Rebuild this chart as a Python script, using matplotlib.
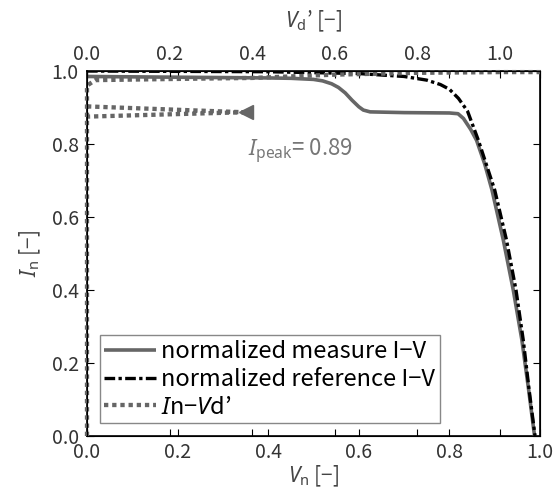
import matplotlib
matplotlib.use("Agg")
import matplotlib.pyplot as plt

plt.rcParams['font.family'] = ['Noto Sans CJK JP', 'DejaVu Sans']
plt.rcParams['mathtext.fontset'] = 'custom'
plt.rcParams['mathtext.it'] = 'Noto Sans:italic'
plt.rcParams['mathtext.rm'] = 'Noto Sans'

# measured I-V (normalized)
meas_v = [0.0, 0.1, 0.2, 0.3, 0.4, 0.45, 0.5, 0.52, 0.54, 0.555, 0.57, 0.585, 0.6, 0.61, 0.625,
          0.7, 0.8, 0.819, 0.831, 0.847, 0.86, 0.878, 0.894, 0.919, 0.941, 0.96, 0.975, 0.988]
meas_i = [0.985, 0.984, 0.983, 0.982, 0.981, 0.980, 0.977, 0.973, 0.965, 0.955, 0.940, 0.920,
          0.902, 0.893, 0.888, 0.886, 0.885, 0.883, 0.870, 0.840, 0.810, 0.745, 0.674, 0.537,
          0.400, 0.263, 0.126, 0.0]

# reference I-V (normalized)
ref_v = [0.0, 0.2, 0.4, 0.6, 0.7, 0.75, 0.78, 0.8, 0.82, 0.84, 0.864, 0.90, 0.926, 0.947,
         0.963, 0.976, 0.989]
ref_i = [1.0, 0.999, 0.998, 0.993, 0.985, 0.975, 0.963, 0.950, 0.925, 0.890, 0.810, 0.674,
         0.537, 0.400, 0.263, 0.126, 0.0]

# In - Vd' trace
ivd_v = [0.0, 0.0, 0.02, 0.2, 0.4, 0.6, 0.8, 1.0, 1.1]
ivd_i = [0.0, 0.96, 0.975, 0.978, 0.981, 0.99, 0.995, 0.997, 0.997]
loop_v = [0.0, 0.38, 0.0]
loop_i = [0.903, 0.887, 0.875]
arrow_v = [0.385]
arrow_i = [0.887]

i_peak = 0.89

fig = plt.figure(figsize=(5.53, 4.97), dpi=100)
ax = fig.add_axes([87/553, 1-436/497, 453/553, 365/497])
ax2 = ax.twiny()

gray = '#666666'
tc = '#333333'
lc = '#444444'

l1, = ax.plot(meas_v, meas_i, color=gray, lw=2.6, solid_capstyle='butt', solid_joinstyle='round',
              label='normalized measure I−V', zorder=3)
l2, = ax.plot(ref_v, ref_i, color='black', lw=2.4, linestyle=(0, (3.2, 1.0, 1.0, 1.0)),
              label='normalized reference I−V', zorder=4)
dots = (0, (1.0, 0.9))
l3, = ax2.plot(ivd_v, ivd_i, color=gray, lw=3.1, linestyle=dots, clip_on=False,
               label=r"$\mathit{I}$n−$\mathit{V}$d’", zorder=2)
ax2.plot(loop_v, loop_i, color=gray, lw=3.1, linestyle=dots, clip_on=False, zorder=2)
ax2.plot(arrow_v, arrow_i, marker='<', color=gray, markersize=10, linestyle='none', zorder=2)

ax.set_xlim(0, 1.0)
ax.set_ylim(0, 1.0)
ax2.set_xlim(0, 1.097)

ticks = [0.0, 0.2, 0.4, 0.6, 0.8, 1.0]
ax.set_xticks(ticks)
ax.set_yticks(ticks)
ax.set_xticklabels([f'{t:.1f}' for t in ticks])
ax.set_yticklabels([f'{t:.1f}' for t in ticks])
ax2.set_xticks(ticks)
ax2.set_xticklabels([f'{t:.1f}' for t in ticks])

ax.tick_params(direction='in', top=True, right=True, labelsize=14, labelcolor=tc, length=5, width=0.8)
ax.tick_params(axis='y', pad=6)
ax.tick_params(axis='x', pad=4)
ax2.tick_params(direction='in', top=True, bottom=True, labelsize=14, labelcolor=tc, length=5,
                width=0.8, pad=4)
for s in ax.spines.values():
    s.set_linewidth(1.2)

ax.set_xlabel(r"$\mathit{V}_{\mathrm{n}}$ [−]", fontsize=15, color=lc, labelpad=1)
ax.set_ylabel(r"$\mathit{I}_{\mathrm{n}}$ [−]", fontsize=15, color=lc, labelpad=6)
ax2.set_xlabel(r"$\mathit{V}_{\mathrm{d}}$’ [−]", fontsize=15, color=lc, labelpad=12)

ax.text(0.355, 0.765, r"$\mathit{I}_{\mathrm{peak}}$= " + f"{i_peak:.2f}", fontsize=16,
        color='#777777', transform=ax.transData)

leg = ax.legend(handles=[l1, l2, l3], loc='lower left', bbox_to_anchor=(0.028, 0.035),
                fontsize=17, frameon=True, fancybox=False, framealpha=1, edgecolor='#888888',
                handlelength=2.2, handletextpad=0.2, borderpad=0.2, labelspacing=0.2,
                borderaxespad=0)
leg.get_frame().set_linewidth(1.0)

fig.savefig('out.png', dpi=100)
